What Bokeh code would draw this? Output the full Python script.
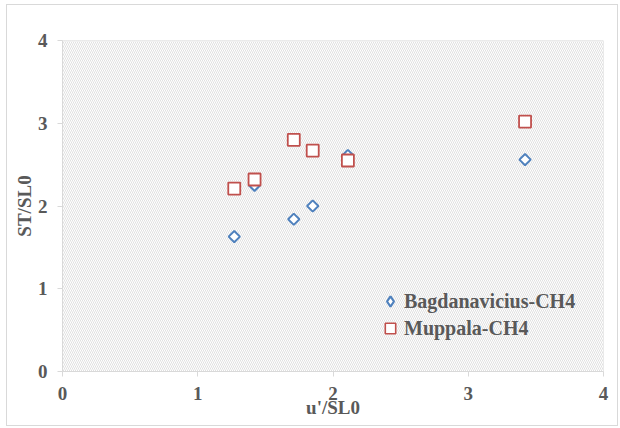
import math
from bokeh.plotting import figure
from bokeh.models import Range1d, FixedTicker, Legend, LegendItem
from bokeh.embed import file_html
from bokeh.resources import INLINE

bag_x = [1.27, 1.42, 1.71, 1.85, 2.11, 3.42]
bag_y = [1.63, 2.25, 1.84, 2.00, 2.61, 2.56]
mup_x = [1.27, 1.42, 1.71, 1.85, 2.11, 3.42]
mup_y = [2.21, 2.32, 2.80, 2.67, 2.55, 3.02]
ticks = [0, 1, 2, 3, 4]

FONT = "Liberation Serif"
TXT = "#595959"
GRID = "#d9d9d9"
BLUE = "#4f81bd"
RED = "#c0504d"

p = figure(frame_width=541, frame_height=331, width=610, height=420,
           output_backend="svg", toolbar_location=None,
           x_range=Range1d(0, 4), y_range=Range1d(0, 4),
           min_border_left=55, min_border_right=14, min_border_top=35, min_border_bottom=54)
p.outline_line_color = None
p.styles = {"border": "1px solid #d9d9d9", "margin-left": "6px", "margin-top": "4px"}

# hatched plot area
p.quad(left=[0], right=[4], bottom=[0], top=[4], fill_color="white",
       hatch_pattern="\\", hatch_color="#d2d2d2", hatch_scale=4, hatch_weight=0.7,
       line_color=GRID, line_width=1)

for ax in (p.xaxis[0], p.yaxis[0]):
    ax.ticker = FixedTicker(ticks=ticks)
    ax.axis_line_color = GRID
    ax.major_tick_line_color = GRID
    ax.major_tick_out = 5
    ax.major_tick_in = 0
    ax.minor_tick_line_color = None
    ax.major_label_text_font = FONT
    ax.major_label_text_font_style = "bold"
    ax.major_label_text_font_size = "19px"
    ax.major_label_text_color = TXT
    ax.axis_label_text_font = FONT
    ax.axis_label_text_font_style = "bold"
    ax.axis_label_text_font_size = "19px"
    ax.axis_label_text_color = TXT

p.xaxis.axis_label = "u'/SL0"
p.yaxis.axis_label = "ST/SL0"
p.xaxis.major_label_standoff = 10
p.yaxis.major_label_standoff = 10
p.xaxis.axis_label_standoff = -6
p.yaxis.axis_label_standoff = 0

p.xgrid.ticker = FixedTicker(ticks=ticks)
p.ygrid.ticker = FixedTicker(ticks=ticks)
p.grid.grid_line_color = GRID

r1 = p.scatter(bag_x, bag_y, marker="square", size=8, angle=math.pi / 4,
               fill_color="white", line_color=BLUE, line_width=2)
r2 = p.scatter(mup_x, mup_y, marker="square", size=12, fill_color="white",
               line_color=RED, line_width=1.8)

# legend-only glyphs (legend ignores marker rotation)
nan = float("nan")
lg1 = p.scatter([nan], [nan], marker="diamond", size=12, fill_color="white",
                line_color=BLUE, line_width=2.2)
lg2 = p.scatter([nan], [nan], marker="square", size=12, fill_color="white",
                line_color=RED, line_width=1.6)

legend = Legend(items=[LegendItem(label="Bagdanavicius-CH4", renderers=[lg1]),
                       LegendItem(label="Muppala-CH4", renderers=[lg2])],
                location=(315, 30))
legend.background_fill_alpha = 0
legend.border_line_color = None
legend.label_text_font = FONT
legend.label_text_font_style = "bold"
legend.label_text_font_size = "20px"
legend.label_text_color = TXT
legend.label_height = 21
legend.glyph_height = 26
legend.glyph_width = 26
legend.spacing = 1
legend.padding = 0
legend.margin = 0
legend.label_standoff = 1
p.add_layout(legend, "center")

open("out.html", "w").write(file_html(p, INLINE))
